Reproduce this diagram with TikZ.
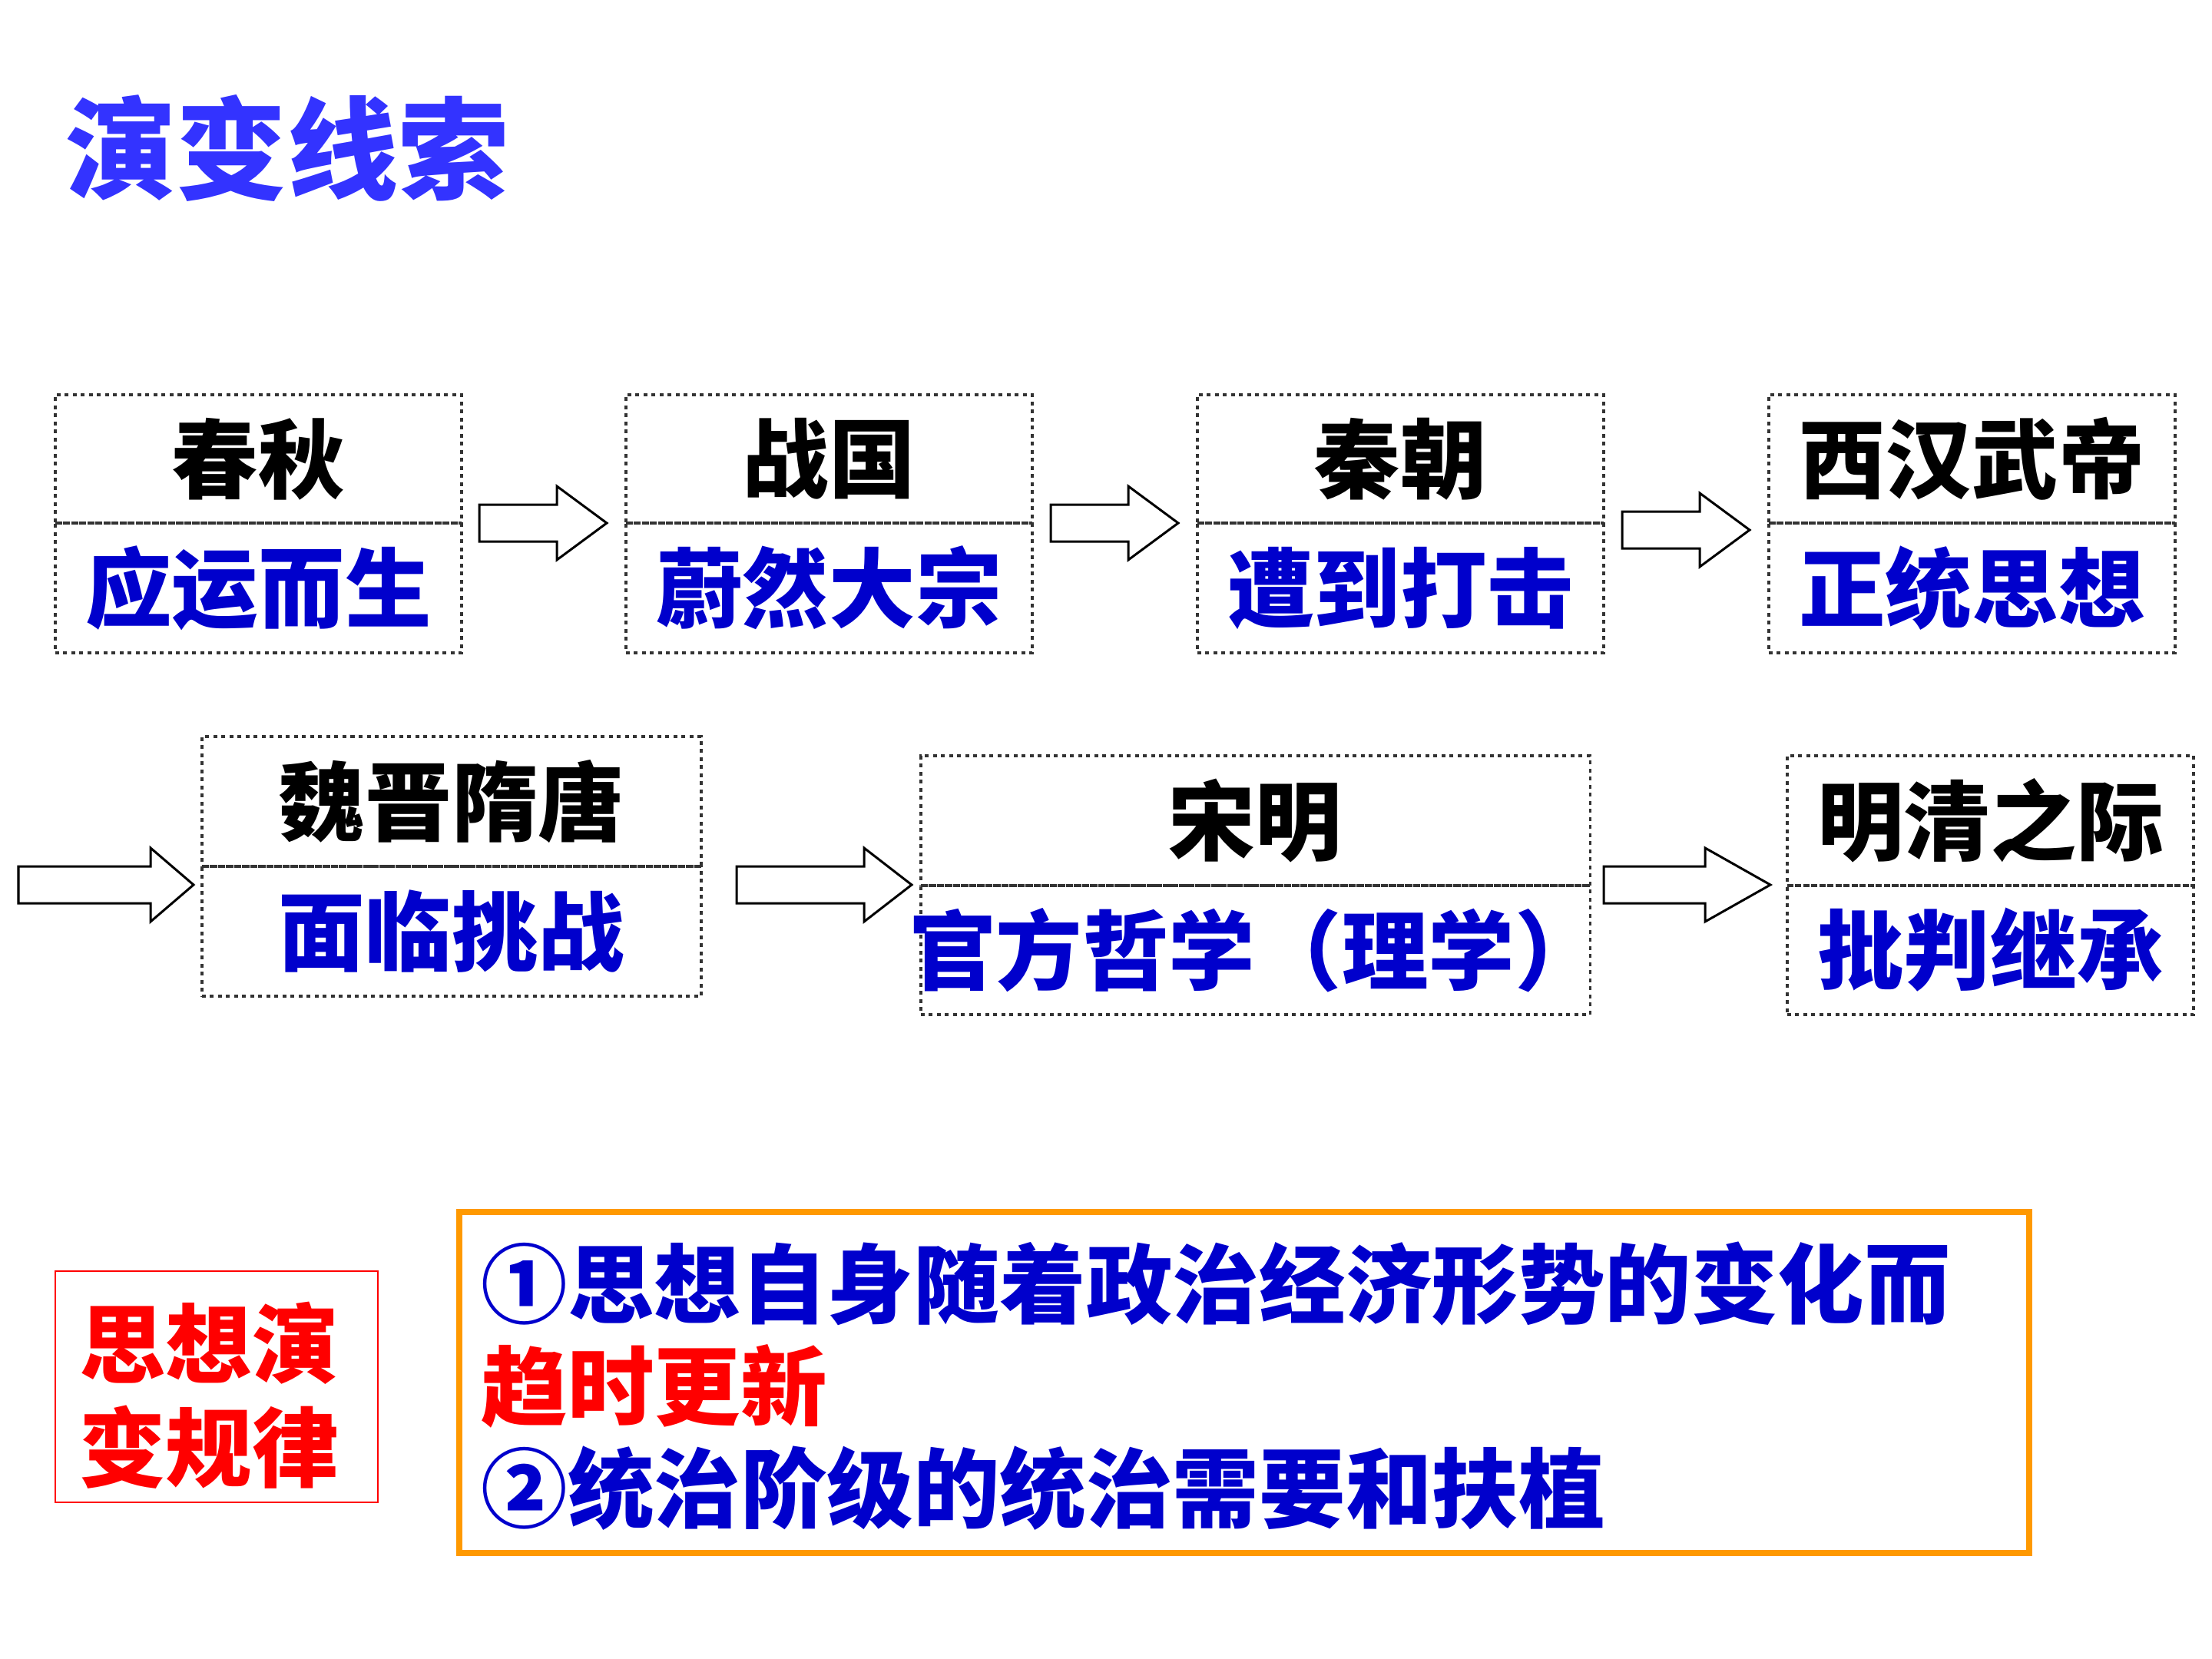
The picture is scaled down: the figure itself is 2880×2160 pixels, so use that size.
\documentclass[tikz,border=0pt]{standalone}
\usepackage{fontspec}
\newfontfamily\cjk{Noto Sans CJK SC}
\definecolor{titleblue}{HTML}{3333FF}
\definecolor{txtblue}{HTML}{0000CC}
\definecolor{boxgray}{HTML}{333333}
\definecolor{orng}{HTML}{FF9900}
\tikzset{
  cell/.style={draw=boxgray, line width=0.035cm, dash pattern=on 0.05cm off 0.055cm, inner sep=0pt},
  era/.style={font=\cjk\bfseries\fontsize{32}{38}\selectfont, text=black},
  view/.style={font=\cjk\bfseries\fontsize{32}{38}\selectfont, text=txtblue},
  rulefont/.style={font=\cjk\bfseries\fontsize{32}{38}\selectfont, inner sep=0pt},
  arrowline/.style={draw=black, fill=white, line width=0.03cm, line join=miter},
  pics/barrow/.style args={#1/#2}{code={
    \draw[arrowline] (0,-24) -- ({#1-#2},-24) -- ({#1-#2},-48) -- (#1,0)
      -- ({#1-#2},48) -- ({#1-#2},24) -- (0,24) -- cycle;
  }}
}
\begin{document}
\begin{tikzpicture}[x=0.01cm,y=-0.01cm]
\useasboundingbox (0,0) rectangle (2880,2160);

% title
\node[anchor=west, inner sep=0pt, font=\cjk\bfseries\fontsize{41}{48}\selectfont, text=titleblue] (title) at (85,193) {演变线索};

% row 1
\node[cell, era,  minimum width=5.29cm, minimum height=1.67cm] (b1t) at (336.5,597.5) {\makebox[0pt]{春秋}};
\node[cell, view, minimum width=5.29cm, minimum height=1.69cm] (b1b) at (336.5,765.5) {\makebox[0pt]{应运而生}};
\node[cell, era,  minimum width=5.29cm, minimum height=1.67cm] (b2t) at (1079.5,597.5) {\makebox[0pt]{战国}};
\node[cell, view, minimum width=5.29cm, minimum height=1.69cm] (b2b) at (1079.5,765.5) {\makebox[0pt]{蔚然大宗}};
\node[cell, era,  minimum width=5.29cm, minimum height=1.67cm] (b3t) at (1823.5,597.5) {\makebox[0pt]{秦朝}};
\node[cell, view, minimum width=5.29cm, minimum height=1.69cm] (b3b) at (1823.5,765.5) {\makebox[0pt]{遭到打击}};
\node[cell, era,  minimum width=5.29cm, minimum height=1.67cm] (b4t) at (2567.5,597.5) {\makebox[0pt]{西汉武帝}};
\node[cell, view, minimum width=5.29cm, minimum height=1.69cm] (b4b) at (2567.5,765.5) {\makebox[0pt]{正统思想}};

% row 2
\node[cell, era,  minimum width=6.50cm, minimum height=1.69cm] (b5t) at (588,1043.5) {\makebox[0pt]{魏晋隋唐}};
\node[cell, view, minimum width=6.50cm, minimum height=1.69cm] (b5b) at (588,1212.5) {\makebox[0pt]{面临挑战}};
\node[cell, era,  minimum width=8.71cm, minimum height=1.69cm] (b6t) at (1634.5,1068.5) {\makebox[0pt]{宋明}};
\node[cell, view, minimum width=8.71cm, minimum height=1.68cm] (b6b) at (1634.5,1237) {\makebox[0pt]{官方哲学（理学）}};
\node[cell, era,  minimum width=5.29cm, minimum height=1.69cm] (b7t) at (2591.5,1068.5) {\makebox[0pt]{明清之际}};
\node[cell, view, minimum width=5.29cm, minimum height=1.68cm] (b7b) at (2591.5,1237) {\makebox[0pt]{批判继承}};

% block arrows
\pic at (624,681) {barrow=166/65};
\pic at (1368,681) {barrow=166/65};
\pic at (2112,690) {barrow=166/65};
\pic at (24,1152) {barrow=228/56};
\pic at (959,1152) {barrow=228/62};
\pic at (2088,1152) {barrow=217/85};

% law box
\node[draw=red, line width=0.025cm, minimum width=4.20cm, minimum height=3.01cm, inner sep=0pt] (law) at (282,1805.5) {};
\node[inner sep=0pt, font=\cjk\bfseries\fontsize{32}{38}\selectfont, text=red] (lawt1) at (272,1749) {思想演};
\node[inner sep=0pt, font=\cjk\bfseries\fontsize{32}{38}\selectfont, text=red] (lawt2) at (272,1884) {变规律};

% rule box
\node[draw=orng, line width=0.08cm, minimum width=20.42cm, minimum height=4.44cm, inner sep=0pt] (rules) at (1620,1800) {};
\node[rulefont, anchor=west, text=txtblue] (r1) at (626,1671) {①思想自身随着政治经济形势的变化而};
\node[rulefont, anchor=west, text=red] (r2) at (626,1805) {趋时更新};
\node[rulefont, anchor=west, text=txtblue] (r3) at (626,1938) {②统治阶级的统治需要和扶植};
\end{tikzpicture}
\end{document}
